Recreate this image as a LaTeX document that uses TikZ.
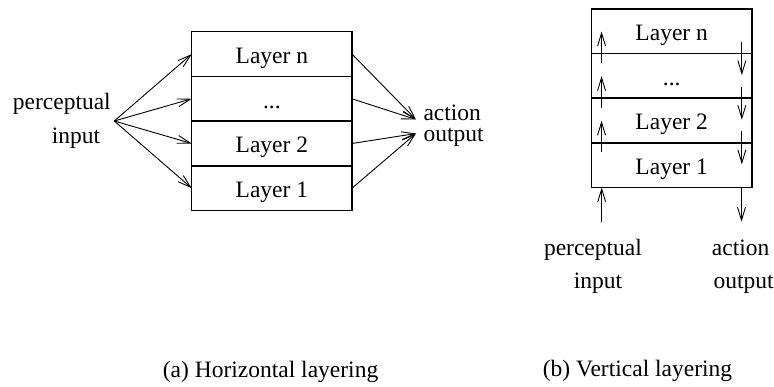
\documentclass[tikz,border=0pt]{standalone}
\usepackage{fontspec}
\setmainfont{Liberation Serif}
\usetikzlibrary{arrows.meta}
\begin{document}
\begin{tikzpicture}[x=1pt,y=-1pt,
  every node/.style={font=\fontsize{23.5}{28}\selectfont},
  layerbox/.style={draw,line width=1.5pt,minimum width=160.3pt,minimum height=44.7pt,
     inner sep=0pt,outer sep=0pt,text height=19pt,text depth=0pt},
  lbl/.style={anchor=base west,inner sep=0pt},
  arr/.style={line width=0.9pt,-{Straight Barb[length=13pt,width=8pt,line width=0.9pt]}}]
\useasboundingbox (0,0) rectangle (774,387);
% ---- (a) horizontal layering
\node[layerbox] (Ln) at (271.85,54.1) {Layer n};
\node[layerbox] (Ld) at (271.85,98.8) {...};
\node[layerbox] (L2) at (271.85,143.5) {Layer 2};
\node[layerbox] (L1) at (271.85,188.2) {Layer 1};
\node[lbl] (pa) at (12.7,109.3) {perceptual};
\node[lbl] (ia) at (51.7,143.3) {input};
\node[lbl] (aa) at (423.3,120.5) {action};
\node[lbl] (oa) at (423.3,141.5) {output};
\coordinate (src) at (114.3,121);
\coordinate (dstu) at (416,119.5);
\coordinate (dstl) at (416,133.5);
\foreach \n in {Ln,Ld,L2,L1} \draw[arr] (src) -- (\n.west);
\draw[arr] (Ln.east) -- (dstu);
\draw[arr] (Ld.east) -- (dstu);
\draw[arr] (L2.east) -- (dstl);
\draw[arr] (L1.east) -- (dstl);
% ---- (b) vertical layering
\node[layerbox] (Rn) at (671.7,31.3) {Layer n};
\node[layerbox] (Rd) at (671.7,75.9) {...};
\node[layerbox] (R2) at (671.7,120.5) {Layer 2};
\node[layerbox] (R1) at (671.7,165.1) {Layer 1};
\node[lbl] (pb) at (543.8,255.5) {perceptual};
\node[lbl] (ib) at (573.7,288.3) {input};
\node[lbl] (ab) at (711.7,256) {action};
\node[lbl] (ob) at (713.3,288.3) {output};
\coordinate (pin) at (601.7,221.7);
\coordinate (aout) at (741.5,221.7);
\draw[arr] (pin) -- (pin |- R1.south);
\foreach \n in {R1,R2,Rd}
  \draw[arr] ([xshift=10pt,yshift=-9.5pt]\n.north west) -- ([xshift=10pt,yshift=22pt]\n.north west);
\foreach \n in {Rn,Rd,R2}
  \draw[arr] ([xshift=-10pt,yshift=11.5pt]\n.south east) -- ([xshift=-10pt,yshift=-21.5pt]\n.south east);
\draw[arr] (aout |- R1.south) -- (aout);
% ---- captions
\node[lbl] (ca) at (162.7,377.5) {(a) Horizontal layering};
\node[lbl] (cb) at (542.7,376.5) {(b) Vertical layering};
\end{tikzpicture}
\end{document}
